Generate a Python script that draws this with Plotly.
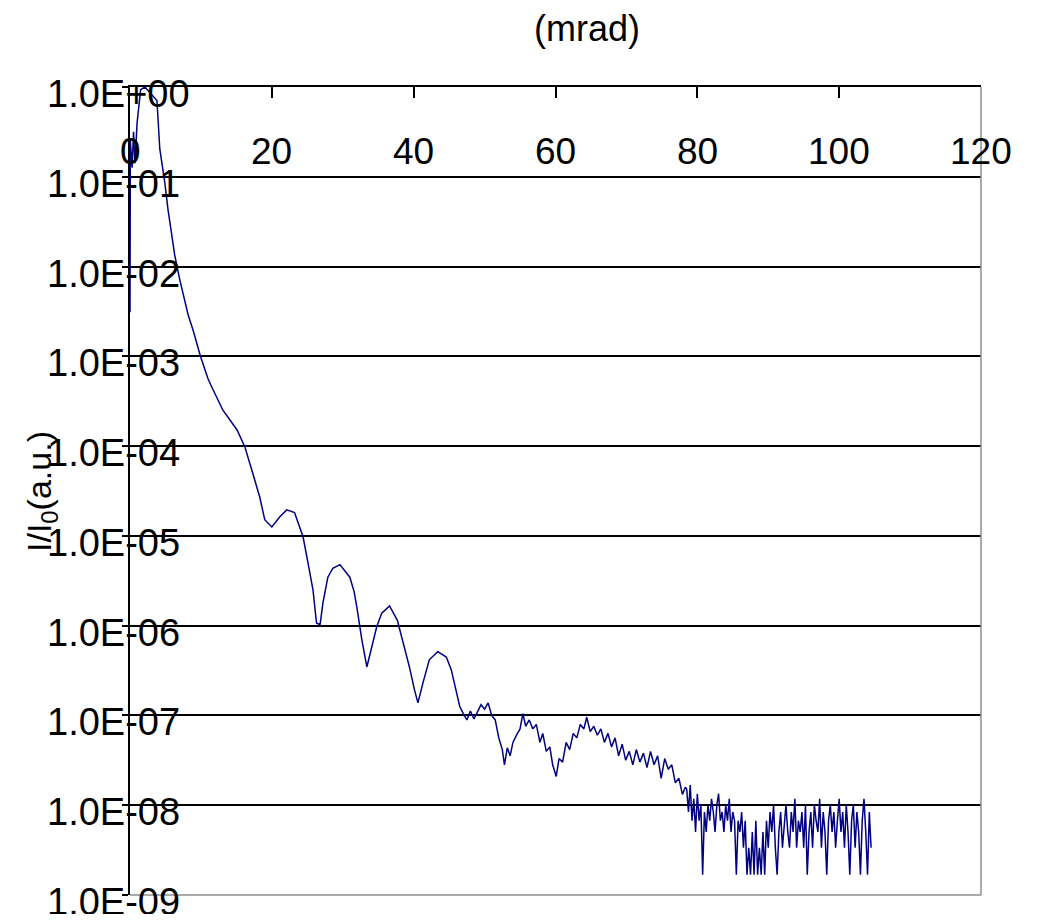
import math
import plotly.graph_objects as go

# ---- data (scattering angle in mrad, log10 of I/I0) ----
angle_main = [0.0, 0.05, 0.3, 0.5, 0.7, 1.0, 1.5, 2.1, 3.8, 4.2, 4.9, 5.35, 6.3, 7.0, 8.2, 8.9,
              9.9, 11.0, 11.7, 13.1, 15.1, 16.2, 17.3, 18.3, 19.0, 20.0, 21.1, 22.1, 23.2, 23.9,
              24.4, 25.1, 25.8, 26.3, 26.8, 27.2, 27.9, 28.6, 29.6, 31.0, 31.6, 32.0, 32.7, 33.4,
              34.1, 34.8, 35.5, 36.6, 37.7, 38.7, 39.4, 40.1, 40.6, 41.3, 42.2, 43.4, 44.6, 45.3,
              46.0, 46.5, 47.0, 47.5, 48.0, 48.5, 49.0, 49.5, 50.0, 50.5, 51.0, 51.5, 52.0, 52.5,
              52.8, 53.2, 53.6, 54.0, 54.5, 55.0, 55.4, 55.8, 56.3, 56.8, 57.3, 57.8, 58.2, 58.7,
              59.2, 59.6, 60.1, 60.5, 61.0, 61.5, 62.0, 62.5, 63.0, 63.5, 64.0, 64.4, 64.9, 65.4,
              65.9, 66.4, 66.9, 67.4, 67.9, 68.4, 68.9, 69.4, 69.9, 70.4, 70.9, 71.4, 71.9, 72.4,
              72.9, 73.4, 73.9, 74.4, 74.9, 75.4, 75.9, 76.4, 76.9, 77.4, 77.9, 78.3]
log_intensity_main = [-2.51, -0.60, -0.90, -0.50, -0.85, -0.40, -0.03, 0.0, -0.15, -0.69, -1.06, -1.36,
                      -1.87, -2.14, -2.54, -2.71, -2.99, -3.25, -3.37, -3.60, -3.82, -4.01, -4.30, -4.57,
                      -4.82, -4.90, -4.79, -4.71, -4.74, -4.90, -5.01, -5.30, -5.60, -5.97, -5.99, -5.75,
                      -5.46, -5.36, -5.32, -5.46, -5.62, -5.80, -6.16, -6.46, -6.24, -6.01, -5.86, -5.78,
                      -5.94, -6.24, -6.46, -6.71, -6.86, -6.64, -6.38, -6.29, -6.35, -6.49, -6.71, -6.90,
                      -6.98, -7.05, -6.95, -7.04, -6.96, -6.88, -6.93, -6.86, -7.00, -7.05, -7.25, -7.38,
                      -7.55, -7.36, -7.45, -7.30, -7.22, -7.15, -6.98, -7.12, -7.05, -7.15, -7.10, -7.30,
                      -7.20, -7.40, -7.35, -7.55, -7.68, -7.48, -7.52, -7.30, -7.38, -7.20, -7.25, -7.10,
                      -7.15, -7.02, -7.18, -7.12, -7.22, -7.15, -7.30, -7.20, -7.35, -7.25, -7.45, -7.32,
                      -7.50, -7.40, -7.55, -7.38, -7.52, -7.42, -7.58, -7.40, -7.55, -7.45, -7.70, -7.48,
                      -7.60, -7.55, -7.75, -7.70, -7.88, -7.80]

# noise floor region: detector counts (intensity = counts * count_unit)
count_unit = 1.68e-9
angle_tail = [78.5, 78.75, 79.0, 79.25, 79.5, 79.75, 80.0, 80.25, 80.5, 80.75, 81.0, 81.25, 81.5, 81.75,
              82.0, 82.25, 82.5, 82.75, 83.0, 83.25, 83.5, 83.75, 84.0, 84.25, 84.5, 84.75, 85.0, 85.25,
              85.5, 85.75, 86.0, 86.25, 86.5, 86.75, 87.0, 87.25, 87.5, 87.75, 88.0, 88.25, 88.5, 88.75,
              89.0, 89.25, 89.5, 89.75, 90.0, 90.25, 90.5, 90.75, 91.0, 91.25, 91.5, 91.75, 92.0, 92.25,
              92.5, 92.75, 93.0, 93.25, 93.5, 93.75, 94.0, 94.25, 94.5, 94.75, 95.0, 95.25, 95.5, 95.75,
              96.0, 96.25, 96.5, 96.75, 97.0, 97.25, 97.5, 97.75, 98.0, 98.25, 98.5, 98.75, 99.0, 99.25,
              99.5, 99.75, 100.0, 100.25, 100.5, 100.75, 101.0, 101.25, 101.5, 101.75, 102.0, 102.25,
              102.5, 102.75, 103.0, 103.25, 103.5, 103.75, 104.0, 104.25, 104.5]
counts_tail = [9, 5, 10, 4, 7, 3, 8, 4, 6, 1,
               5, 3, 6, 4, 7, 5, 3, 6, 8, 4, 5, 3, 6, 4, 7, 3, 5, 4,
               1,
               4, 3, 5, 2, 4, 1,
               2, 1, 3, 1, 4, 1, 2, 1, 3, 1, 4,
               2, 5, 3, 6, 2,
               1,
               3, 5, 2, 4, 6, 3, 2, 5, 3, 7, 2, 4, 3, 5, 2, 6,
               1,
               3, 5, 2, 6, 4, 3, 7, 2, 5, 3,
               1,
               4, 6, 3, 5, 2, 4, 7, 3, 5, 2, 6, 3,
               1,
               4, 6, 2, 5, 3, 1, 4, 7, 3, 1, 5, 2]

x_ticks = [0, 20, 40, 60, 80, 100, 120]
y_ticks = [1e0, 1e-1, 1e-2, 1e-3, 1e-4, 1e-5, 1e-6, 1e-7, 1e-8, 1e-9]
y_tick_labels = ["1.0E+00", "1.0E-01", "1.0E-02", "1.0E-03", "1.0E-04",
                 "1.0E-05", "1.0E-06", "1.0E-07", "1.0E-08", "1.0E-09"]

x_all = angle_main + angle_tail
y_all = [10 ** v for v in log_intensity_main] + [c * count_unit for c in counts_tail]

FONT = "Liberation Sans, Arial, sans-serif"

# page has an 8px body margin; target plot box in window pixels: x 130..981, y 87..895
OFF = 8
W, H = 1032, 906
L = 130 - OFF
T = 87 - OFF
R = (W + OFF) - 981
B = (H + OFF) - 895
pw, ph = W - L - R, H - T - B


def px_x(p):
    return (p - 130) / pw


def px_y(p):
    return (895 - p) / ph


fig = go.Figure()
fig.add_trace(go.Scatter(x=x_all, y=y_all, mode="lines",
                         line=dict(color="#000080", width=1.5), showlegend=False,
                         hoverinfo="skip"))

fig.update_layout(
    width=W, height=H,
    margin=dict(l=L, r=R, t=T, b=B),
    paper_bgcolor="white", plot_bgcolor="white",
    font=dict(family=FONT, color="black"),
    xaxis=dict(range=[0, 120], side="top", showgrid=False, zeroline=False,
               tickvals=x_ticks, showticklabels=False, ticks="inside", ticklen=11,
               tickwidth=1.5, tickcolor="black",
               showline=True, linecolor="black", linewidth=2, mirror=False),
    yaxis=dict(type="log", range=[-9, 0], tickvals=y_ticks, showticklabels=False,
               showgrid=True, gridcolor="black", gridwidth=1.5, zeroline=False,
               ticks="outside", ticklen=6, tickwidth=1.5, tickcolor="black",
               showline=True, linecolor="black", linewidth=2, mirror=False),
)

# right and bottom frame (grey)
fig.add_shape(type="line", xref="paper", yref="paper", x0=1, x1=1, y0=0, y1=1,
              line=dict(color="#8c8c8c", width=1.5))
fig.add_shape(type="line", xref="paper", yref="paper", x0=0, x1=1, y0=0, y1=0,
              line=dict(color="#8c8c8c", width=1.5))

anns = []
for v in x_ticks:
    anns.append(dict(x=v, xref="x", y=px_y(152), yref="paper", text=str(v),
                     showarrow=False, xanchor="center", yanchor="middle",
                     font=dict(size=37, family=FONT, color="black")))
for v, lab in zip(y_ticks, y_tick_labels):
    anns.append(dict(x=px_x(45), xref="paper", y=math.log10(v), yref="y", text=lab,
                     showarrow=False, xanchor="left", yanchor="middle", yshift=-7,
                     font=dict(size=38, family=FONT, color="black")))
anns.append(dict(x=px_x(587), xref="paper", y=px_y(29), yref="paper",
                 text="(mrad)", showarrow=False, xanchor="center", yanchor="middle",
                 font=dict(size=36, family=FONT, color="black")))
anns.append(dict(x=px_x(41), xref="paper", y=px_y(492), yref="paper",
                 text="I/I<sub>0</sub>(a.u.)", textangle=-90, showarrow=False,
                 xanchor="center", yanchor="middle",
                 font=dict(size=34, family=FONT, color="black")))
fig.update_layout(annotations=anns)

fig.write_html("out.html")
